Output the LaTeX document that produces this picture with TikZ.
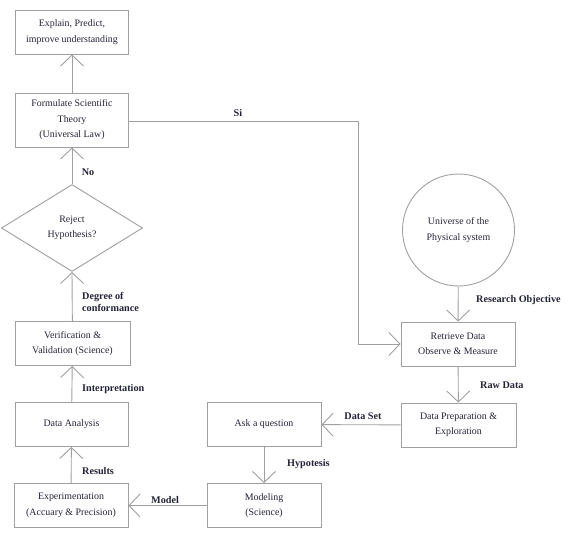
\documentclass[tikz,border=0pt]{standalone}
\usepackage{fontspec}
\setmainfont{Liberation Serif}
\usetikzlibrary{arrows.meta,shapes.geometric}
\definecolor{linegray}{RGB}{160,160,160}
\definecolor{txt}{RGB}{35,35,55}
\begin{document}
\begin{tikzpicture}[x=1pt,y=-1pt,
  box/.style={draw=linegray, line width=0.9pt, minimum width=113pt, minimum height=44pt, inner sep=1pt, align=center, text=txt, font=\fontsize{9.9}{15.5}\selectfont},
  dia/.style={draw=linegray, line width=0.9pt, shape=diamond, minimum width=141pt, minimum height=87pt, inner sep=0pt, align=center, text=txt, font=\fontsize{9.9}{15.5}\selectfont},
  circ/.style={draw=linegray, line width=0.9pt, shape=circle, minimum size=112pt, inner sep=0pt, align=center, text=txt, font=\fontsize{9.9}{15.5}\selectfont},
  conn/.style={draw=linegray, line width=0.9pt, -{Straight Barb[length=11pt,width=23pt,line width=0.9pt]}},
  lbl/.style={font=\bfseries\fontsize{10.2}{12.5}\selectfont, text=txt, align=left, inner sep=0pt}]
\useasboundingbox (0,0) rectangle (581,535);
% nodes
\node[box] (explain) at (72,32) {Explain, Predict,\\improve understanding};
\node[box, minimum height=54pt] (theory) at (72,120) {Formulate Scientific\\Theory\\(Universal Law)};
\node[dia] (reject) at (72,228) {Reject\\Hypothesis?};
\node[box, minimum width=115pt] (verif) at (72.5,343.5) {Verification \&\\Validation (Science)};
\node[box] (analysis) at (71.5,424.5) {Data Analysis};
\node[box, minimum width=114pt] (exper) at (71,505.5) {Experimentation\\(Accuary \& Precision)};
\node[box, minimum width=114pt] (ask) at (264,424.5) {Ask a question};
\node[box, minimum width=114pt] (model) at (264,505.5) {Modeling\\(Science)};
\node[box, minimum width=115pt] (prep) at (458.5,425) {Data Preparation \&\\Exploration};
\node[box, minimum width=114pt] (retrieve) at (458,344) {Retrieve Data\\Observe \& Measure};
\node[circ] (universe) at (458.5,230) {Universe of the\\Physical system};
% connectors
\draw[conn] (theory) -- (explain);
\draw[conn] (reject) -- (theory);
\draw[conn] (verif) -- (reject.south);
\draw[conn] (analysis) -- (verif);
\draw[conn] (exper) -- (analysis);
\draw[conn] (model) -- (exper);
\draw[conn] (ask) -- (model);
\draw[conn] (prep) -- (ask);
\draw[conn] (retrieve) -- (prep);
\draw[conn] (universe) -- (retrieve);
\coordinate (corner1) at (358,121);
\coordinate (corner2) at (358,344);
\draw[conn] (theory.east |- corner1) -- (corner1) -- (corner2) -- (retrieve.west);
% labels
\node[lbl] (lno) at (88,172) {No};
\node[lbl, anchor=west] (ldeg) at (82,302) {Degree of\\conformance};
\node[lbl, anchor=west] (linterp) at (82,389) {Interpretation};
\node[lbl, anchor=west] (lres) at (82,471) {Results};
\node[lbl] (lmodel) at (165,500) {Model};
\node[lbl, anchor=west] (lhyp) at (287,464) {Hypotesis};
\node[lbl] (lds) at (363,416) {Data Set};
\node[lbl, anchor=west] (lraw) at (480,385) {Raw Data};
\node[lbl, anchor=west] (lres2) at (476,300) {Research Objective};
\node[lbl] (lsi) at (238,113) {Si};
\end{tikzpicture}
\end{document}
